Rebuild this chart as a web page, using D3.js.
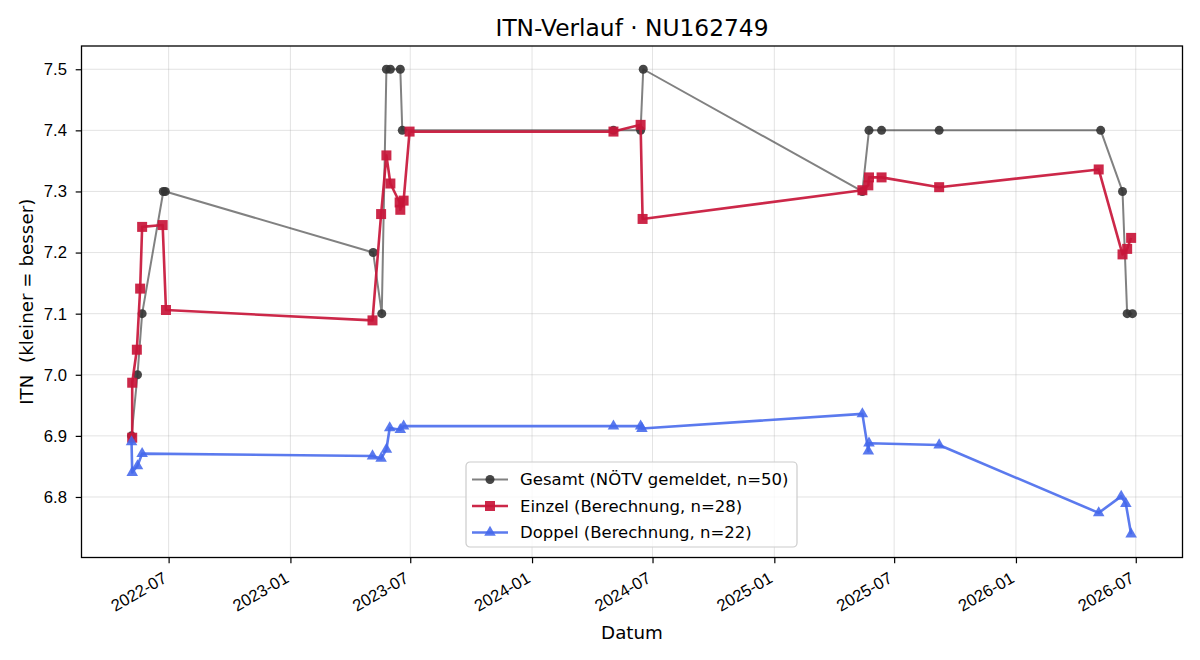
<!DOCTYPE html>
<html>
<head>
<meta charset="utf-8">
<script src="https://cdn.jsdelivr.net/npm/d3@7"></script>
<style>
  body { margin: 0; background: #fff; }
  svg { font-family: "DejaVu Sans", sans-serif; display: block; }
</style>
</head>
<body>
<svg id="chart"></svg>
<script>
// values
const gesamtDates = ['2022-05-06', '2022-05-15', '2022-05-22', '2022-06-23', '2022-06-26',
  '2023-05-06', '2023-05-19', '2023-05-26', '2023-06-01', '2023-06-16', '2023-06-19',
  '2024-05-03', '2024-06-13', '2024-06-17',
  '2025-05-14', '2025-05-24', '2025-06-12', '2025-09-07',
  '2026-05-09', '2026-06-11', '2026-06-18', '2026-06-26'];
const gesamtValues = [6.90, 7.00, 7.10, 7.30, 7.30,
  7.20, 7.10, 7.50, 7.50, 7.50, 7.40,
  7.40, 7.40, 7.50,
  7.30, 7.40, 7.40, 7.40,
  7.40, 7.30, 7.10, 7.10];

const einzelDates = ['2022-05-07', '2022-05-07', '2022-05-14', '2022-05-19', '2022-05-22', '2022-06-22', '2022-06-27',
  '2023-05-05', '2023-05-18', '2023-05-26', '2023-06-01', '2023-06-15', '2023-06-16', '2023-06-21', '2023-06-30',
  '2024-05-03', '2024-06-13', '2024-06-16',
  '2025-05-14', '2025-05-23', '2025-05-24', '2025-06-12', '2025-09-07',
  '2026-05-06', '2026-06-11', '2026-06-18', '2026-06-24'];
const einzelValues = [6.897, 6.987, 7.041, 7.141, 7.242, 7.245, 7.106,
  7.089, 7.263, 7.359, 7.313, 7.282, 7.270, 7.285, 7.398,
  7.398, 7.409, 7.255,
  7.302, 7.310, 7.323, 7.323, 7.307,
  7.336, 7.197, 7.206, 7.224];

const doppelDates = ['2022-05-06', '2022-05-07', '2022-05-15', '2022-05-22',
  '2023-05-05', '2023-05-18', '2023-05-26', '2023-05-31', '2023-06-16', '2023-06-21',
  '2024-05-03', '2024-06-13', '2024-06-15',
  '2025-05-14', '2025-05-23', '2025-05-24', '2025-09-07',
  '2026-05-06', '2026-06-09', '2026-06-16', '2026-06-24'];
const doppelValues = [6.890, 6.840, 6.851, 6.871,
  6.867, 6.863, 6.878, 6.913, 6.910, 6.916,
  6.916, 6.916, 6.912,
  6.936, 6.875, 6.888, 6.885,
  6.774, 6.801, 6.789, 6.739];

const legendLabels = ['Gesamt (NÖTV gemeldet, n=50)', 'Einzel (Berechnung, n=28)', 'Doppel (Berechnung, n=22)'];

const W = 1200, H = 660;
const margin = {top: 46, right: 17.5, bottom: 102.5, left: 81.5},
  width = W - margin.left - margin.right,
  height = H - margin.top - margin.bottom;

const parseDate = d3.timeParse('%Y-%m-%d');
const zip = (dates, values) => dates.map((d, i) => ({date: parseDate(d), value: values[i]}));

const series = [
  {data: zip(gesamtDates, gesamtValues), line: '#333', lineOpacity: 0.62, lineWidth: 2,
    marker: '#333', markerOpacity: 0.9, symbol: d3.symbolCircle, size: 64},
  {data: zip(einzelDates, einzelValues), line: '#c8163a', lineOpacity: 0.92, lineWidth: 2.6,
    marker: '#c8163a', markerOpacity: 0.92, symbol: d3.symbolSquare, size: 100},
  {data: zip(doppelDates, doppelValues), line: '#4468ec', lineOpacity: 0.88, lineWidth: 2.6,
    marker: '#4468ec', markerOpacity: 0.88, symbol: d3.symbolTriangle, size: 58}
];

const all = series.flatMap(s => s.data);

// 5% padding on both axes, like the original plot
function pad(ext, f) {
  const span = ext[1] - ext[0];
  return [ext[0] - span * f, ext[1] + span * f];
}
const xExt = pad(d3.extent(all, d => +d.date), 0.05);
const yExt = pad(d3.extent(all, d => d.value), 0.05);

const x = d3.scaleTime().domain([new Date(xExt[0]), new Date(xExt[1])]).range([0, width]);
const y = d3.scaleLinear().domain(yExt).range([height, 0]);

const svg = d3.select('#chart').attr('width', W).attr('height', H);
svg.append('rect').attr('width', W).attr('height', H).attr('fill', '#fff');

const g = svg.append('g').attr('transform', 'translate(' + margin.left + ',' + margin.top + ')');

const xTicks = x.ticks(d3.timeMonth.every(6));
const yTicks = y.ticks(8);

// grid
g.append('g').selectAll('line').data(xTicks).join('line')
  .attr('x1', d => x(d)).attr('x2', d => x(d))
  .attr('y1', 0).attr('y2', height)
  .attr('stroke', '#b0b0b0').attr('stroke-opacity', 0.35).attr('stroke-width', 1);
g.append('g').selectAll('line').data(yTicks).join('line')
  .attr('y1', d => y(d)).attr('y2', d => y(d))
  .attr('x1', 0).attr('x2', width)
  .attr('stroke', '#b0b0b0').attr('stroke-opacity', 0.35).attr('stroke-width', 1);

// axes
const xAxis = d3.axisBottom(x).tickValues(xTicks).tickFormat(d3.timeFormat('%Y-%m'))
  .tickSize(5.8).tickSizeOuter(0);
const yAxis = d3.axisLeft(y).tickValues(yTicks).tickFormat(d3.format('.1f'))
  .tickSize(5.8).tickSizeOuter(0);

const gx = g.append('g').attr('transform', 'translate(0,' + height + ')').call(xAxis);
gx.select('.domain').remove();
gx.selectAll('line').attr('stroke', '#000').attr('stroke-width', 1.2);
gx.selectAll('text')
  .attr('font-size', 16.67).attr('fill', '#000')
  .attr('text-anchor', 'end')
  .attr('x', 0).attr('y', 0).attr('dy', '0.72em')
  .attr('transform', 'translate(-7,13.5) rotate(-30)');

const gy = g.append('g').call(yAxis);
gy.select('.domain').remove();
gy.selectAll('line').attr('stroke', '#000').attr('stroke-width', 1.2);
gy.selectAll('text').attr('font-size', 16.67).attr('fill', '#000').attr('x', -14.5);

// lines and markers
const line = d3.line().x(d => x(d.date)).y(d => y(d.value));

series.forEach(s => {
  g.append('path').datum(s.data)
    .attr('d', line)
    .attr('fill', 'none')
    .attr('stroke', s.line)
    .attr('stroke-opacity', s.lineOpacity)
    .attr('stroke-width', s.lineWidth)
    .attr('stroke-linejoin', 'round');
  g.append('g').selectAll('path').data(s.data).join('path')
    .attr('d', d3.symbol(s.symbol, s.size))
    .attr('transform', d => 'translate(' + x(d.date) + ',' + y(d.value) + ')')
    .attr('fill', s.marker)
    .attr('fill-opacity', s.markerOpacity);
});

// frame
g.append('rect').attr('width', width).attr('height', height)
  .attr('fill', 'none').attr('stroke', '#000').attr('stroke-width', 1.3);

// labels
svg.append('text')
  .attr('x', margin.left + width / 2).attr('y', 36)
  .attr('text-anchor', 'middle').attr('font-size', 23.3)
  .text('ITN-Verlauf · NU162749');

svg.append('text')
  .attr('x', margin.left + width / 2).attr('y', 639)
  .attr('text-anchor', 'middle').attr('font-size', 18.3)
  .text('Datum');

svg.append('text')
  .attr('transform', 'translate(33,' + (margin.top + height / 2) + ') rotate(-90)')
  .attr('text-anchor', 'middle').attr('font-size', 18.3)
  .style('white-space', 'pre')
  .text('ITN  (kleiner = besser)');

// legend
const lg = svg.append('g').attr('transform', 'translate(466,462)');
lg.append('rect').attr('width', 331).attr('height', 85).attr('rx', 4)
  .attr('fill', '#fff').attr('fill-opacity', 0.8)
  .attr('stroke', '#ccc').attr('stroke-width', 1.2);

series.forEach((s, i) => {
  const ly = 17.5 + i * 26.5;
  lg.append('line').attr('x1', 6).attr('x2', 42).attr('y1', ly).attr('y2', ly)
    .attr('stroke', s.line).attr('stroke-opacity', s.lineOpacity).attr('stroke-width', s.lineWidth);
  lg.append('path').attr('d', d3.symbol(s.symbol, s.size))
    .attr('transform', 'translate(24,' + ly + ')')
    .attr('fill', s.marker).attr('fill-opacity', s.markerOpacity);
  lg.append('text').attr('x', 54).attr('y', ly).attr('dy', '0.36em')
    .attr('font-size', 16.5).text(legendLabels[i]);
});
</script>
</body>
</html>
